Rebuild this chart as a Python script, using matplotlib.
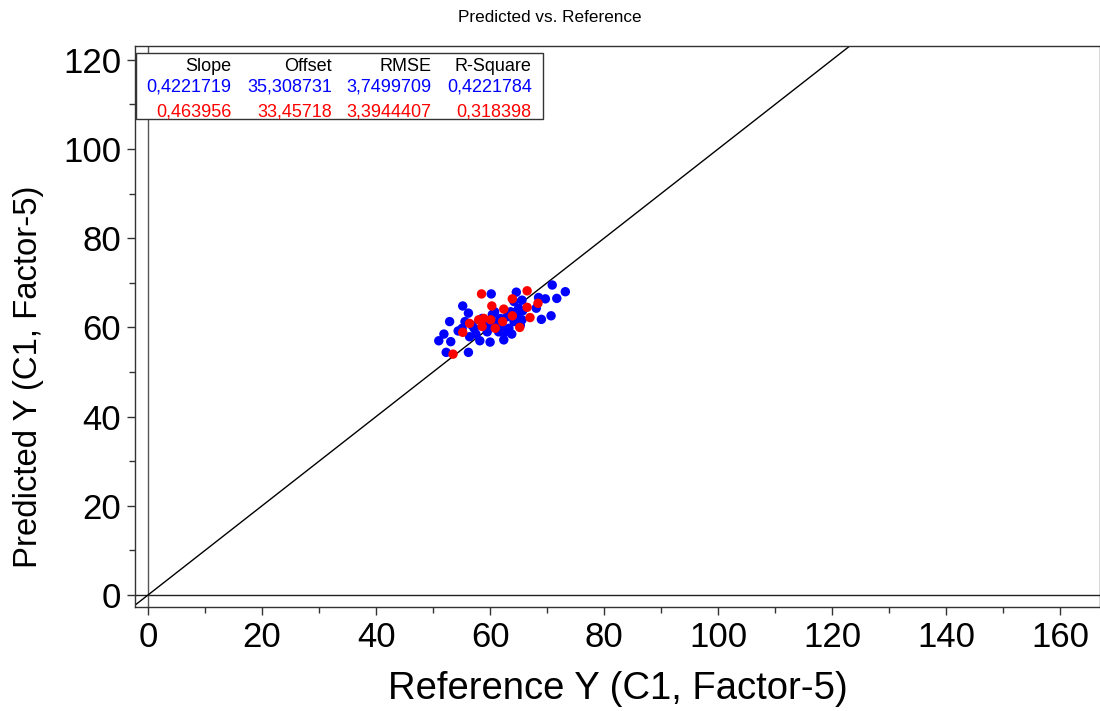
import matplotlib
matplotlib.use("Agg")
import matplotlib.pyplot as plt
from matplotlib.patches import Rectangle

plt.rcParams['font.family'] = ['Liberation Sans', 'DejaVu Sans']

# Calibration samples (blue)
cal_x = [70.9, 73.2, 71.7, 69.7, 68.5, 68.1, 70.7, 69.0, 64.6, 64.2, 65.6, 65.7,
         65.6, 65.3, 64.2, 63.3, 62.4, 62.4, 62.1, 65.0, 64.7, 63.6, 63.0, 60.2,
         55.2, 56.2, 52.9, 55.6, 55.1, 54.4, 51.9, 51.0, 53.1, 56.4, 58.2, 60.0,
         52.3, 56.2, 60.4, 57.2, 59.5, 61.5, 58.6, 61.0, 59.8, 61.8, 57.5, 63.8,
         60.8, 56.8]
cal_y = [69.5, 68.0, 66.5, 66.4, 66.7, 64.3, 62.6, 61.8, 67.9, 65.8, 66.1, 63.7,
         61.7, 60.5, 61.3, 59.8, 58.7, 57.2, 59.8, 64.3, 62.9, 63.5, 62.4, 67.5,
         64.8, 63.2, 61.3, 61.3, 59.8, 59.2, 58.5, 57.0, 56.8, 57.9, 57.0, 56.7,
         54.4, 54.4, 62.9, 59.8, 59.0, 59.0, 62.0, 61.0, 60.5, 62.0, 58.5, 58.5,
         63.5, 60.5]

# Validation samples (red)
val_x = [58.5, 66.5, 63.9, 68.4, 66.5, 62.4, 60.3, 63.9, 67.0, 62.2, 65.2, 56.4,
         58.0, 58.9, 60.1, 58.6, 60.9, 55.2, 53.5]
val_y = [67.5, 68.2, 66.4, 65.4, 64.5, 64.1, 64.8, 62.6, 62.2, 61.3, 60.0, 60.9,
         61.7, 62.0, 61.7, 60.2, 59.8, 58.9, 54.0]

stat_headers = ["Slope", "Offset", "RMSE", "R-Square"]
cal_stats = ["0,4221719", "35,308731", "3,7499709", "0,4221784"]
val_stats = ["0,463956", "33,45718", "3,3944407", "0,318398"]

x_ticks = [0, 20, 40, 60, 80, 100, 120, 140, 160]
y_ticks = [0, 20, 40, 60, 80, 100, 120]
x_minor = [10, 30, 50, 70, 90, 110, 130, 150]
y_minor = [10, 30, 50, 70, 90, 110]

fig = plt.figure(figsize=(11, 7.11), dpi=100)
ax = fig.add_axes([0.1227, 0.1463, 0.8773, 0.789])

ax.axhline(0, color='#222222', lw=1.0, zorder=1)
ax.axvline(0, color='#555555', lw=1.0, zorder=1)
ax.plot([-10, 200], [-10, 200], color='black', lw=1.0, zorder=2)

ax.scatter(cal_x, cal_y, s=46, color='#0000ff', edgecolors='none', zorder=3)
ax.scatter(val_x, val_y, s=46, color='#ff0000', edgecolors='none', zorder=4)

ax.set_xticks(x_ticks)
ax.set_yticks(y_ticks)
ax.set_xticks(x_minor, minor=True)
ax.set_yticks(y_minor, minor=True)
ax.set_xlim(-2.3, 167.0)
ax.set_ylim(-2.7, 123.1)
ax.tick_params(axis='both', which='major', labelsize=25, length=6, width=1.0,
               direction='out', color='#333333', pad=4)
ax.tick_params(axis='both', which='minor', length=4, width=1.0,
               direction='out', color='#333333')
for side in ['left', 'bottom', 'top', 'right']:
    ax.spines[side].set_color('#333333')
    ax.spines[side].set_linewidth(1.0)

ax.set_xlabel("Reference Y (C1, Factor-5)", fontsize=27.5, labelpad=12)
ax.set_ylabel("Predicted Y (C1, Factor-5)", fontsize=23.7)
ax.yaxis.set_label_coords(-0.094, 0.41)
fig.text(0.5, 0.976, "Predicted vs. Reference", ha='center', va='center', fontsize=12.3)

# stats box
box = Rectangle((0.001, 0.870), 0.4218, 0.117, transform=ax.transAxes,
                facecolor='white', edgecolor='#333333', lw=1.0, zorder=5)
ax.add_patch(box)
col_x = [0.1002, 0.2041, 0.3075, 0.4111]
for cx, h, c, v in zip(col_x, stat_headers, cal_stats, val_stats):
    ax.text(cx, 0.9635, h, transform=ax.transAxes, ha='right', va='center',
            fontsize=13, color='black', zorder=6)
    ax.text(cx, 0.9275, c, transform=ax.transAxes, ha='right', va='center',
            fontsize=13, color='#0000ff', zorder=6)
    ax.text(cx, 0.883, v, transform=ax.transAxes, ha='right', va='center',
            fontsize=13, color='#ff0000', zorder=6)

fig.savefig("out.png", dpi=100)
